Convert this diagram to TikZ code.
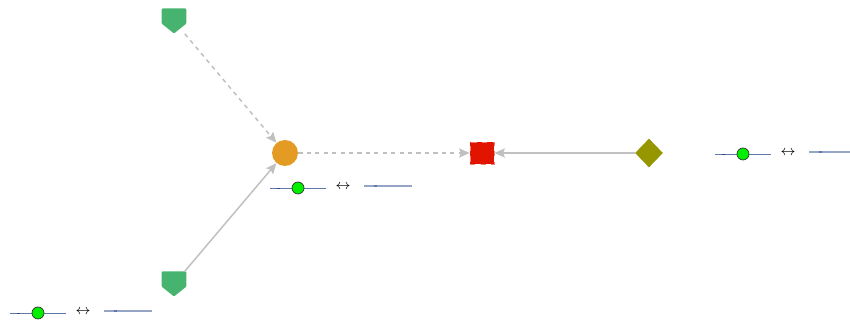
\documentclass[tikz,border=0pt]{standalone}
\usetikzlibrary{shapes.geometric, arrows.meta, positioning}
\definecolor{shieldgreen}{RGB}{70,180,110}
\definecolor{huborange}{RGB}{227,155,36}
\definecolor{sinkred}{RGB}{225,20,0}
\definecolor{srcolive}{RGB}{150,150,0}
\definecolor{edgegray}{RGB}{192,192,192}
\definecolor{slideblue}{RGB}{95,120,170}
\definecolor{slidepale}{RGB}{150,165,198}
\definecolor{knobgreen}{RGB}{0,240,0}

\tikzset{
  shield/.style={minimum width=0.5cm, minimum height=0.5cm, inner sep=0pt,
    path picture={\fill[shieldgreen, rounded corners=0.6pt]
      (path picture bounding box.north west) -- (path picture bounding box.north east)
      -- ([yshift=0.2cm]path picture bounding box.south east)
      -- (path picture bounding box.south)
      -- ([yshift=0.2cm]path picture bounding box.south west) -- cycle;}},
  hub/.style={circle, fill=huborange, minimum size=0.52cm, inner sep=0pt},
  sink/.style={rectangle, fill=sinkred, draw=sinkred!55!white, dashed, thin,
    minimum width=0.48cm, minimum height=0.44cm, inner sep=0pt},
  source/.style={diamond, fill=srcolive, minimum width=0.56cm, minimum height=0.58cm, inner sep=0pt},
  link/.style={draw=edgegray, line width=0.85pt, -{Stealth[length=6pt, width=5.2pt, inset=1pt]}},
  softlink/.style={link, dash pattern=on 2.4pt off 2.4pt},
  knob/.style={circle, fill=knobgreen, draw=black!80, line width=0.4pt, minimum size=0.24cm, inner sep=0pt},
  slider/.style={draw=slideblue, line width=0.5pt},
  valbar/.style={draw=slidepale, line width=1pt},
  swap/.style={inner sep=0pt, font=\footnotesize}
}

\begin{document}
\begin{tikzpicture}[x=0.02cm, y=-0.02cm]
\useasboundingbox (0,0) rectangle (850,320);

% graph
\node[shield] (topsrc) at (174,21) {};
\node[shield] (botsrc) at (174,284) {};
\node[hub] (hub) at (285,153) {};
\node[sink] (sink) at (482,153) {};
\node[source] (olive) at (649,153) {};

\draw[softlink] (topsrc) -- (hub);
\draw[link] (botsrc) -- (hub);
\draw[softlink] (hub) -- (sink);
\draw[link] (olive) -- (sink);

% sliders
\foreach \x/\y/\n in {270/188/a, 715/154/b, 10/313/c} {
  \coordinate (bar\n l) at (\x,\y);
  \coordinate (bar\n r) at (\x+56,\y);
  \draw[slider] (bar\n l) -- (bar\n r);
  \draw[slideblue!60!black, line width=0.5pt] (\x+7,\y) -- (\x+10,\y);
  \node[knob] (knob\n) at (\x+28,\y) {};
  \node[swap] (swap\n) at (\x+73,\y-1) {$\leftrightarrow$};
  \coordinate (val\n l) at (\x+94,\y-2);
  \coordinate (val\n r) at (\x+142,\y-2);
  \draw[valbar] (val\n l) -- (val\n r);
  \draw[slideblue, line width=1pt] (\x+104,\y-2) -- (\x+107,\y-2);
}
\end{tikzpicture}
\end{document}
